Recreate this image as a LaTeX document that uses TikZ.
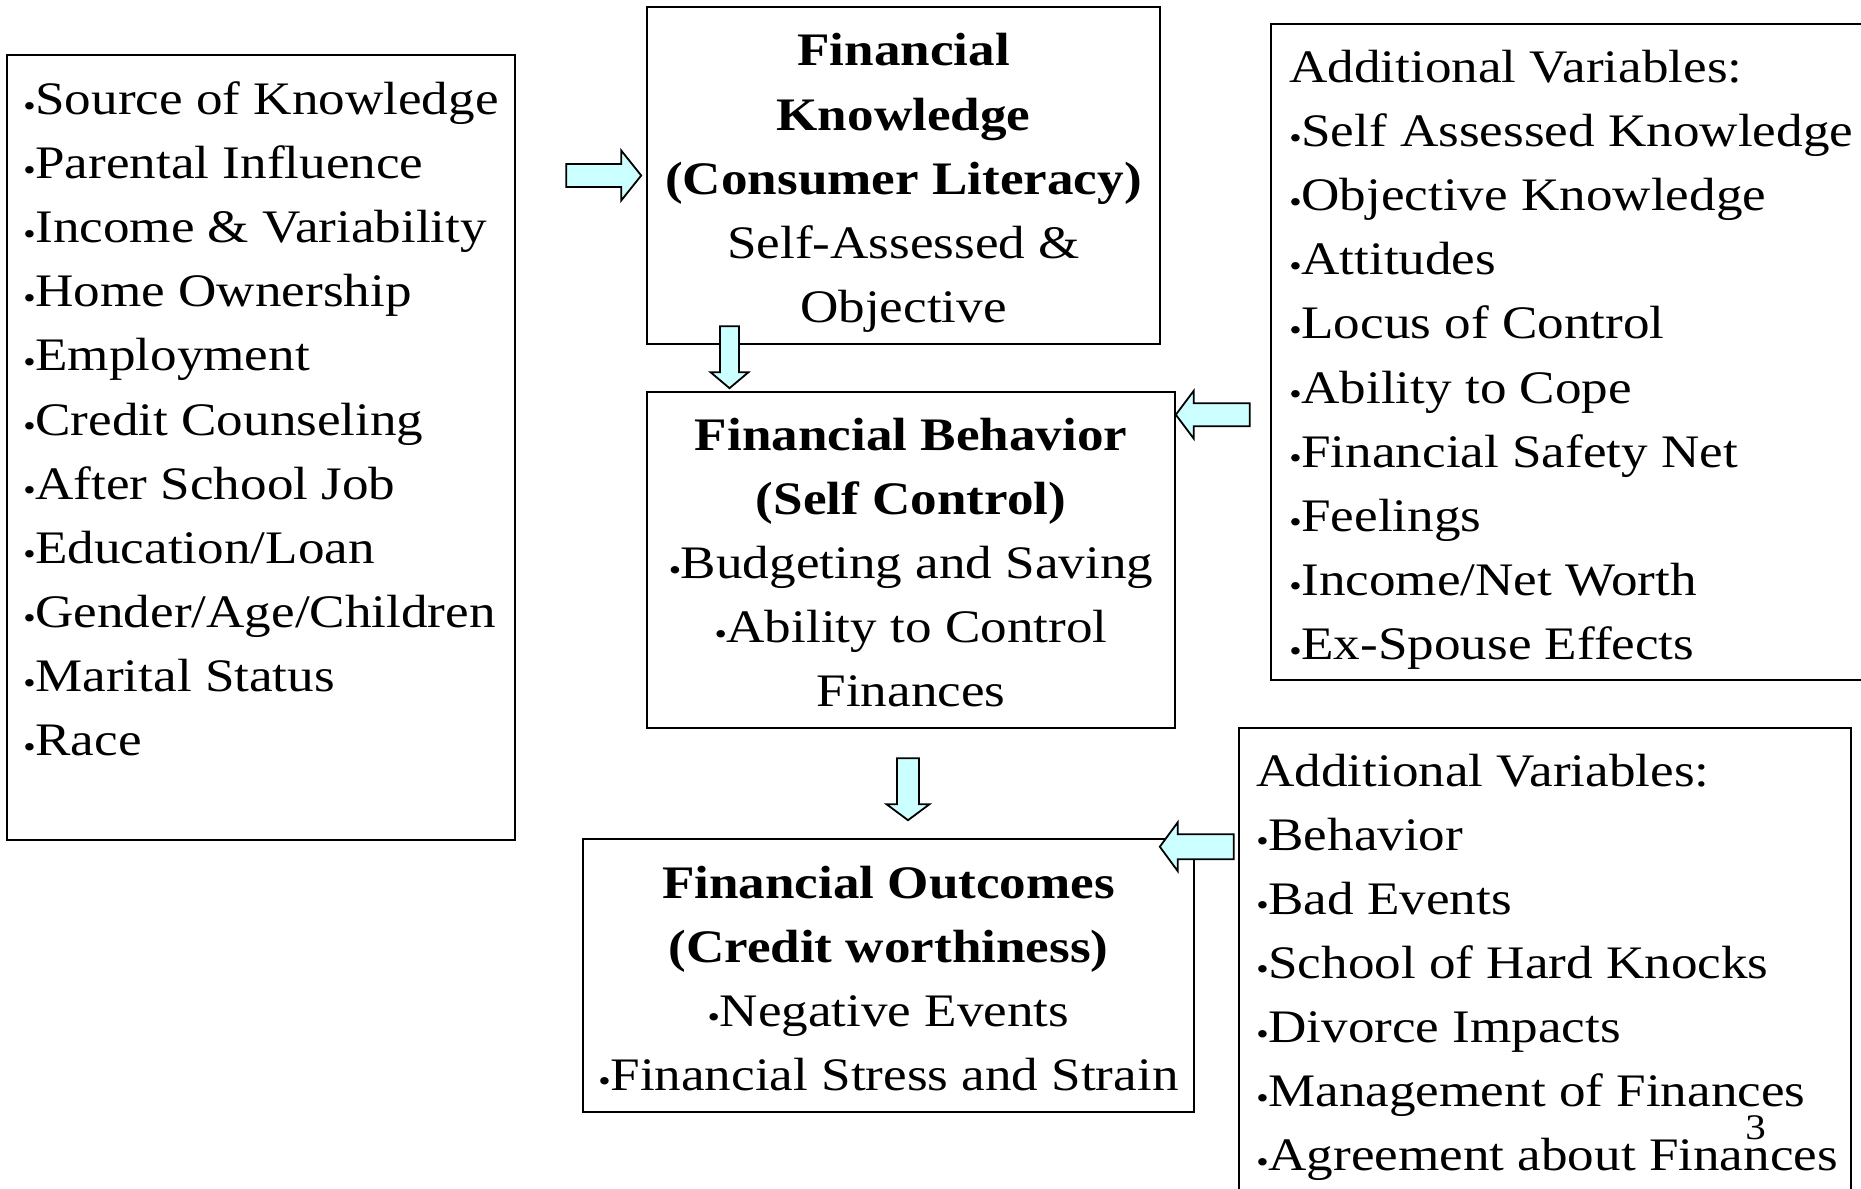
\documentclass[tikz,border=0pt]{standalone}
\usepackage{fontspec}
\setmainfont{Liberation Serif}[FakeStretch=1.14]
\usetikzlibrary{calc}
\usetikzlibrary{positioning}

\definecolor{arrowcyan}{RGB}{204,255,255}

% small bullet as in the slide
\newcommand{\bul}{\makebox[6pt][l]{\raisebox{-0.8pt}{\fontsize{15.5}{15.5}\selectfont\textbullet}}}
% block arrow: tail, tip, shaft half width, head half width, head length
\newcommand{\fatarrow}[5]{%
  \coordinate (fa-c) at ($(#2)!#5!(#1)$);
  \draw[arrowbody] ($(#1)!#3!90:(#2)$) -- ($(fa-c)!#3!90:(#2)$) -- ($(fa-c)!#4!90:(#2)$)
    -- (#2) -- ($(fa-c)!#4!-90:(#2)$) -- ($(fa-c)!#3!-90:(#2)$) -- ($(#1)!#3!-90:(#2)$) -- cycle;}

\begin{document}
\begin{tikzpicture}[
  x=0.5pt, y=-0.5pt,
  panel/.style = {draw, line width=0.8pt, inner sep=0pt},
  txt/.style = {inner sep=0pt, font=\fontsize{23.3}{32}\selectfont},
  hd/.style = {txt, font=\fontsize{23.3}{32}\selectfont\bfseries},
  arrowbody/.style = {draw, line width=0.9pt, fill=arrowcyan, line join=miter}
  ]
	\useasboundingbox (0,0) rectangle (1861,1188);
	\clip (0,0) rectangle (1861,1188);

	% boxes
	\node[panel, minimum width=254pt, minimum height=392.5pt] (srcs) at (261,447.5) {};
	\node[panel, minimum width=256.5pt, minimum height=168.5pt] (know) at (903.5,175.5) {};
	\node[panel, minimum width=264pt, minimum height=168pt] (behav) at (911,560) {};
	\node[panel, minimum width=305.5pt, minimum height=136.5pt] (outc) at (888.5,975.5) {};
	\node[panel, minimum width=309.5pt, minimum height=328pt] (addA) at (1580.5,352) {};
	\node[panel, minimum width=306pt, minimum height=251pt] (addB) at (1545,979) {};

	% left list
	\foreach \t [count=\i from 0] in {Source of Knowledge, Parental Influence, Income \& Variability,
	  Home Ownership, Employment, Credit Counseling, After School Job, Education/Loan,
	  Gender/Age/Children, Marital Status, Race}
	  \node[txt, anchor=base west] (src\i) at (23,{114.5+64.1*\i}) {\bul\t};

	% knowledge
	\node[hd, anchor=base] (know1) at (903.5,66) {Financial};
	\node[hd, anchor=base] (know2) at (903.5,130) {Knowledge};
	\node[hd, anchor=base] (know3) at (903.5,194) {(Consumer Literacy)};
	\node[txt, anchor=base] (know4) at (903.5,258) {Self-Assessed \&};
	\node[txt, anchor=base] (know5) at (903.5,322) {Objective};

	% behavior
	\node[hd, anchor=base] (behav1) at (911,450) {Financial Behavior};
	\node[hd, anchor=base] (behav2) at (911,514.5) {(Self Control)};
	\node[txt, anchor=base] (behav3) at (911,578.6) {\bul Budgeting and Saving};
	\node[txt, anchor=base] (behav4) at (911,642.7) {\bul Ability to Control};
	\node[txt, anchor=base] (behav5) at (911,706.8) {Finances};

	% outcomes
	\node[hd, anchor=base] (outc1) at (888.5,898) {Financial Outcomes};
	\node[hd, anchor=base] (outc2) at (888.5,962) {(Credit worthiness)};
	\node[txt, anchor=base] (outc3) at (888.5,1026) {\bul Negative Events};
	\node[txt, anchor=base] (outc4) at (888.5,1090) {\bul Financial Stress and Strain};

	% additional variables
	\node[txt, anchor=base west] (addA0) at (1289,82.5) {Additional Variables:};
	\foreach \t [count=\i] in {Self Assessed Knowledge, Objective Knowledge, Attitudes,
	  Locus of Control, Ability to Cope, Financial Safety Net, Feelings,
	  Income/Net Worth, Ex-Spouse Effects}
	  \node[txt, anchor=base west] (addA\i) at (1289,{82.5+64.1*\i}) {\bul\t};

	\node[txt, anchor=base west] (addB0) at (1256,786) {Additional Variables:};
	\foreach \t [count=\i] in {Behavior, Bad Events, School of Hard Knocks, Divorce Impacts,
	  Management of Finances, Agreement about Finances}
	  \node[txt, anchor=base west] (addB\i) at (1256,{786+64.1*\i}) {\bul\t};

	\node[inner sep=0pt, anchor=base west, font=\fontsize{18}{18}\selectfont] (slideno) at (1745,1139) {3};

	% arrows
	\coordinate (a1) at ($(know.west)+(-80,0)$);
	\coordinate (a1t) at ($(know.west)+(-5,0)$);
	\coordinate (a2) at ($(behav.north)+(-181.5,-65)$);
	\coordinate (a2t) at ($(behav.north)+(-181.5,-3)$);
	\coordinate (a3) at ($(behav.north east)+(74,23.5)$);
	\coordinate (a3t) at ($(behav.north east)+(0,23.5)$);
	\coordinate (a4) at ($(outc.north)+(19.5,-80)$);
	\coordinate (a4t) at ($(outc.north)+(19.5,-18)$);
	\coordinate (a5) at ($(outc.north east)+(39,8.5)$);
	\coordinate (a5t) at ($(outc.north east)+(-35,8.5)$);

	\fatarrow{a1}{a1t}{5.75pt}{12.5pt}{10pt}
	\fatarrow{a2}{a2t}{4.75pt}{9.5pt}{8pt}
	\fatarrow{a3}{a3t}{5.75pt}{12pt}{9pt}
	\fatarrow{a4}{a4t}{5.5pt}{10.75pt}{8pt}
	\fatarrow{a5}{a5t}{6.25pt}{12.25pt}{9pt}

\end{tikzpicture}
\end{document}
